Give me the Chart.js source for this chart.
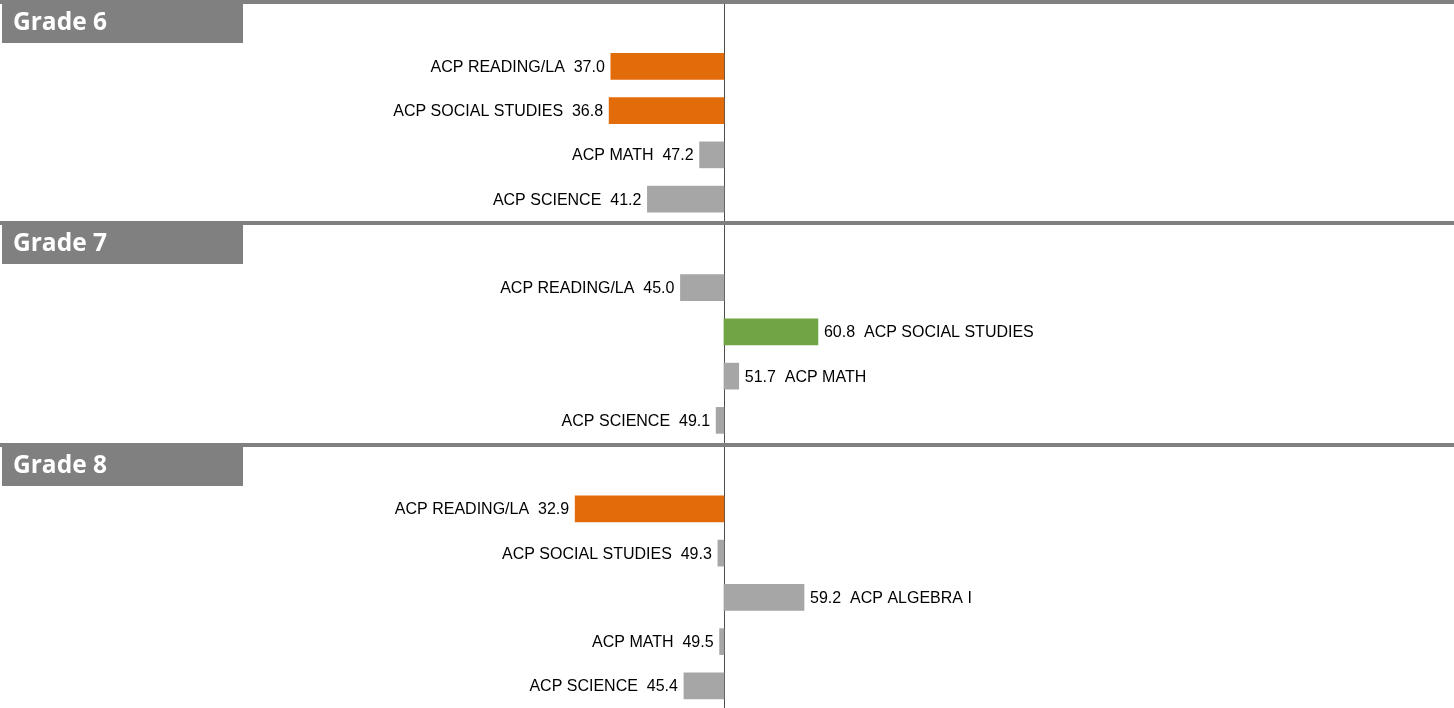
<!DOCTYPE html>
<html>
<head>
<meta charset="utf-8">
<script src="https://cdn.jsdelivr.net/npm/chart.js@4"></script>
<style>
	body { margin: 0; background: #ffffff; }
	#chart-container { width: 1454px; height: 708px; }
</style>
</head>
<body>
<div id="chart-container"><canvas id="acp-chart" width="1454" height="708"></canvas></div>
<script>
// rows of the chart, header rows have no score
const categories = [
	'Grade 6', 'ACP READING/LA', 'ACP SOCIAL STUDIES', 'ACP MATH', 'ACP SCIENCE',
	'Grade 7', 'ACP READING/LA', 'ACP SOCIAL STUDIES', 'ACP MATH', 'ACP SCIENCE',
	'Grade 8', 'ACP READING/LA', 'ACP SOCIAL STUDIES', 'ACP ALGEBRA I', 'ACP MATH', 'ACP SCIENCE'
];
const scores = [
	null, 37.0, 36.8, 47.2, 41.2,
	null, 45.0, 60.8, 51.7, 49.1,
	null, 32.9, 49.3, 59.2, 49.5, 45.4
];
const BASELINE = 50;
const LOW_LIMIT = 40;
const HIGH_LIMIT = 60;

const ORANGE = '#E36C0A';
const GREEN = '#70A445';
const GRAY = '#A6A6A6';
const HEADER_GRAY = '#808080';

const barColor = (v) => {
	if (v === null) return GRAY;
	if (v < LOW_LIMIT) return ORANGE;
	if (v > HIGH_LIMIT) return GREEN;
	return GRAY;
};

// floating bars from the baseline to the score
const barData = scores.map(v => v === null ? null : [BASELINE, v]);

const centerLine = {
	id: 'centerLine',
	beforeDatasetsDraw: (chart) => {
		const ctx = chart.ctx;
		const x = Math.round(chart.scales.x.getPixelForValue(BASELINE)) + 0.5;
		ctx.save();
		ctx.strokeStyle = '#4d4d4d';
		ctx.lineWidth = 1;
		ctx.beginPath();
		ctx.moveTo(x, 0);
		ctx.lineTo(x, chart.height);
		ctx.stroke();
		ctx.restore();
	}
};

const gradeHeaders = {
	id: 'gradeHeaders',
	afterDatasetsDraw: (chart) => {
		const ctx = chart.ctx;
		const yScale = chart.scales.y;
		const band = yScale.getPixelForValue(1) - yScale.getPixelForValue(0);
		ctx.save();
		scores.forEach((v, i) => {
			if (v !== null) return;
			const top = Math.round(yScale.getPixelForValue(i) - band / 2);
			ctx.fillStyle = HEADER_GRAY;
			ctx.fillRect(0, top, chart.width, 4);
			ctx.fillRect(2, top, 241, 43);
			ctx.fillStyle = '#ffffff';
			ctx.font = 'bold 24.5px "Open Sans"';
			ctx.textAlign = 'left';
			ctx.textBaseline = 'middle';
			ctx.fillText(categories[i], 13, top + 23);
		});
		ctx.restore();
	}
};

const barLabels = {
	id: 'barLabels',
	afterDatasetsDraw: (chart) => {
		const ctx = chart.ctx;
		const xScale = chart.scales.x;
		const yScale = chart.scales.y;
		ctx.save();
		ctx.font = '16px "Liberation Sans", Arial';
		ctx.fillStyle = '#000000';
		ctx.textBaseline = 'middle';
		scores.forEach((v, i) => {
			if (v === null) return;
			const x = xScale.getPixelForValue(v);
			const y = yScale.getPixelForValue(i);
			if (v < BASELINE) {
				ctx.textAlign = 'right';
				ctx.fillText(categories[i] + '  ' + v.toFixed(1), x - 6, y + 1);
			} else {
				ctx.textAlign = 'left';
				ctx.fillText(v.toFixed(1) + '  ' + categories[i], x + 6, y + 1);
			}
		});
		ctx.restore();
	}
};

const chartContext = document.getElementById('acp-chart').getContext('2d');

const acpChart = new Chart(chartContext, {
	type: 'bar',
	data: {
		labels: categories,
		datasets: [{
			data: barData,
			backgroundColor: scores.map(barColor),
			borderWidth: 0,
			barThickness: 26
		}]
	},
	options: {
		indexAxis: 'y',
		responsive: false,
		animation: false,
		layout: { padding: 0 },
		plugins: {
			legend: { display: false },
			tooltip: { enabled: false }
		},
		scales: {
			x: {
				display: false,
				min: -33.2,
				max: 133.9
			},
			y: {
				display: false
			}
		}
	},
	plugins: [centerLine, gradeHeaders, barLabels]
});
</script>
</body>
</html>
